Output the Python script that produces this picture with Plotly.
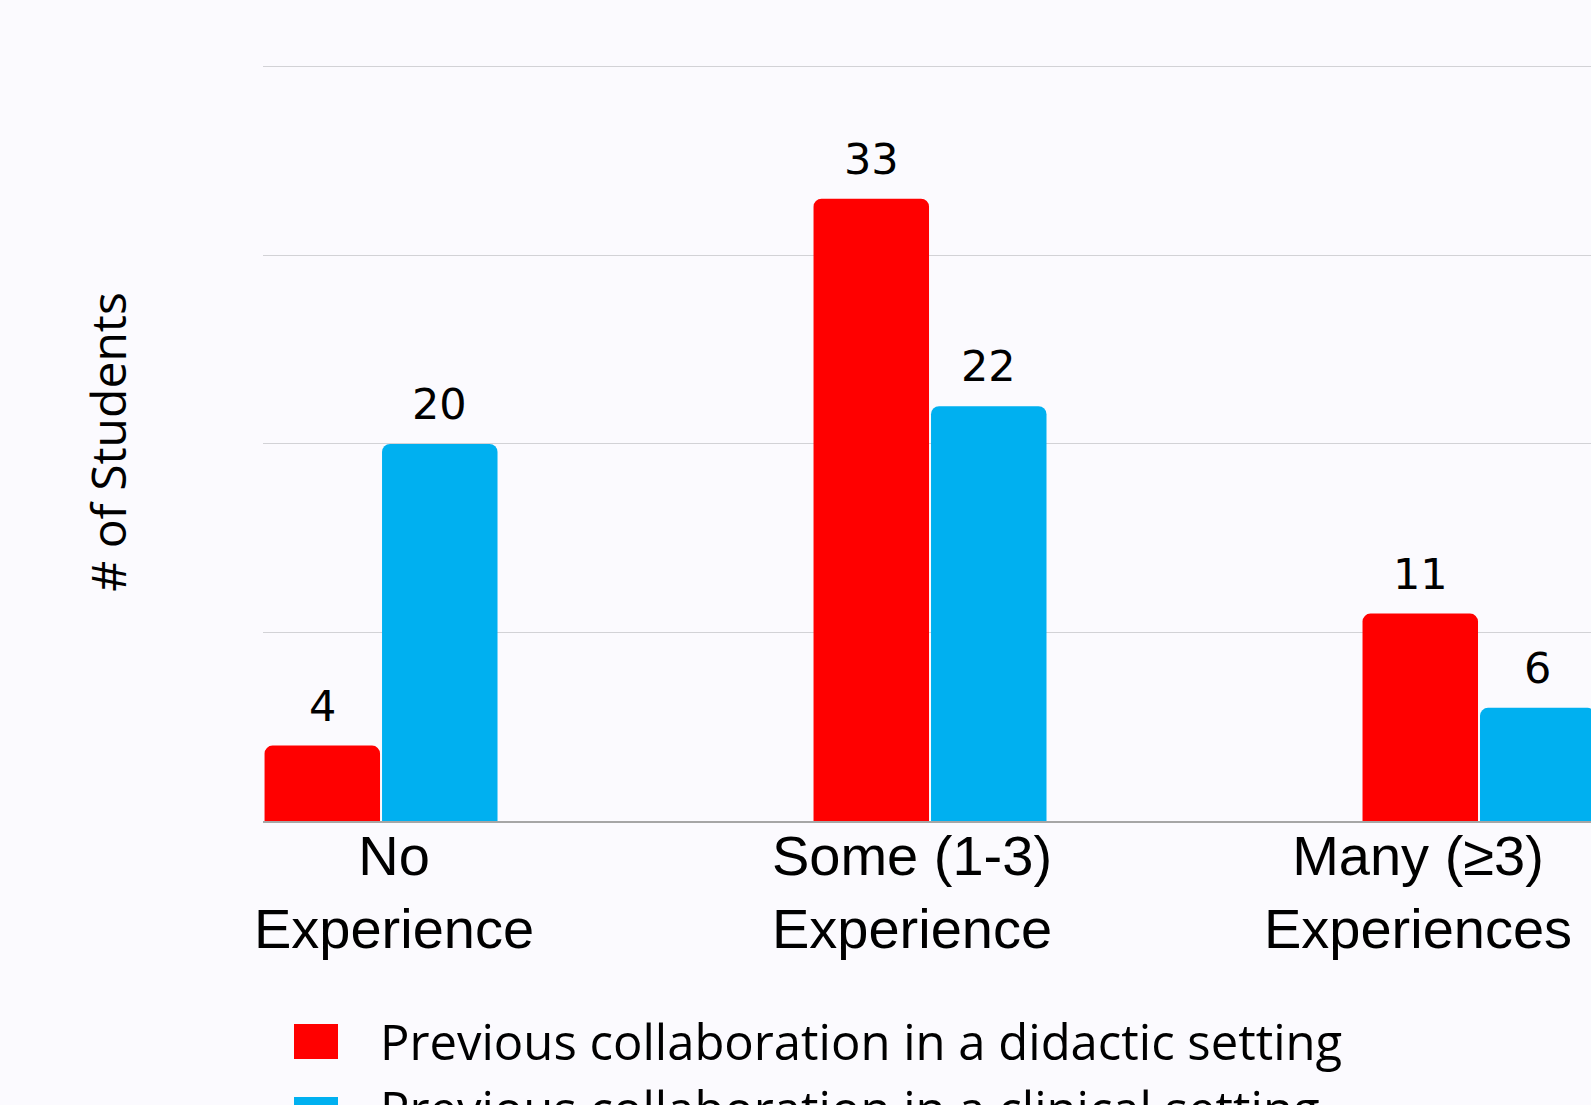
import plotly.graph_objects as go

# ---- data ----
categories = ["No<br>Experience", "Some (1-3)<br>Experience", "Many (≥3)<br>Experiences"]
didactic = [4, 33, 11]
clinical = [20, 22, 6]
series_names = ["Previous collaboration in a didactic setting",
                "Previous collaboration in a clinical setting"]
series_colors = ["#FF0000", "#00B0F0"]
y_grid = [0, 10, 20, 30, 40]

# ---- layout constants ----
W, H = 1591, 1105
ML, MR, MT, MB = 263, 0, 63, 284
BARGAP = 0.572
GROUPGAP = 0.017
BG = "#FBFAFE"
X_RANGE = [-0.215, 2.204]
LABEL_NUDGE_PX = [13, -18, -61]   # horizontal nudge of category labels (px)
pw = W - ML - MR
ph = H - MT - MB
px_per_unit = pw / (X_RANGE[1] - X_RANGE[0])


def px_x(px):
    return (px - ML) / pw


def px_y(py):
    return (MT + ph - py) / ph


fig = go.Figure()
for name, vals, col in zip(series_names, [didactic, clinical], series_colors):
    fig.add_trace(go.Bar(
        x=list(range(len(categories))), y=vals, name=name,
        marker=dict(color=col, line=dict(width=0)),
        legendgroup=name,
    ))

# value labels above bars
slot = (1 - BARGAP) / 2
for s, vals in enumerate([didactic, clinical]):
    off = (s - 0.5) * slot
    for i, v in enumerate(vals):
        fig.add_annotation(x=i + off, y=v, text=str(v), showarrow=False,
                           xref="x", yref="y", yanchor="bottom", yshift=13,
                           font=dict(family="DejaVu Sans", size=43, color="#000000"))

# big legend squares (overlay on legend symbols)
sq_px = [(294, 1024), (294, 1097)]
for (px, py), col in zip(sq_px, series_colors):
    fig.add_shape(type="rect", xref="paper", yref="paper",
                  x0=px_x(px), x1=px_x(px + 44),
                  y0=px_y(py), y1=px_y(py + 35),
                  fillcolor=col, line=dict(width=0), layer="above")

tick_pos = [i + LABEL_NUDGE_PX[i] / px_per_unit for i in range(len(categories))]

fig.update_layout(
    width=W, height=H,
    margin=dict(l=ML, r=MR, t=MT, b=MB, pad=0, autoexpand=False),
    paper_bgcolor=BG, plot_bgcolor=BG,
    barmode="group", bargap=BARGAP, bargroupgap=GROUPGAP,
    barcornerradius=8,
    showlegend=True,
    legend=dict(
        x=px_x(246), y=px_y(1003), xanchor="left", yanchor="top",
        orientation="v", traceorder="normal", tracegroupgap=5,
        itemwidth=124, bgcolor="rgba(0,0,0,0)",
        font=dict(family="Open Sans", size=49, color="#000000"),
    ),
    xaxis=dict(
        tickmode="array", tickvals=tick_pos, ticktext=categories,
        range=X_RANGE, tickangle=0, automargin=False,
        ticklabeloverflow="allow", ticklabelstandoff=-15,
        tickfont=dict(family="Liberation Sans", size=56, color="#000000"),
        showline=True, linecolor="#A6A6A6", linewidth=2,
        showgrid=False, zeroline=False, ticks="",
    ),
    yaxis=dict(
        range=[0, 40.2], tickvals=y_grid, showticklabels=False, automargin=False,
        showgrid=True, gridcolor="#D2D2D6", gridwidth=1, zeroline=False,
        title=dict(text="# of Students", standoff=120,
                   font=dict(family="Open Sans", size=48, color="#000000")),
    ),
)

fig.write_html("out.html", config={"displayModeBar": False},
               post_script="document.body.style.margin='0';document.body.style.overflow='hidden';")
